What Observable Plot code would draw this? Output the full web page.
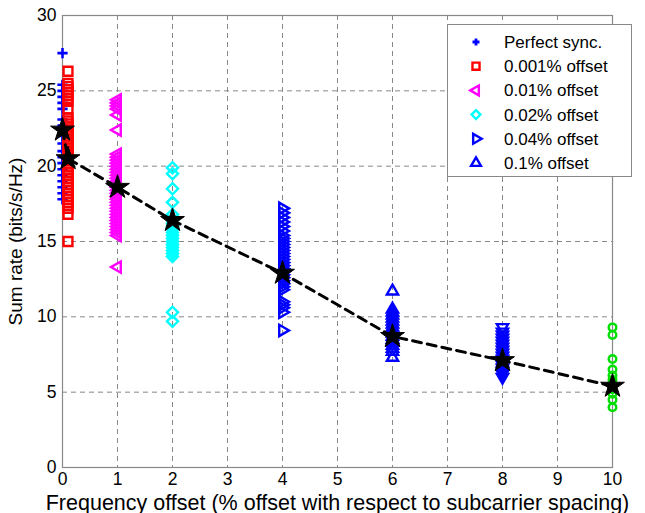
<!DOCTYPE html>
<html>
<head>
<meta charset="utf-8">
<script src="https://cdn.jsdelivr.net/npm/d3@7"></script>
<script src="https://cdn.jsdelivr.net/npm/@observablehq/plot@0.6"></script>
<style>
  body { margin: 0; background: #fff; }
  #wrap { position: relative; width: 645px; height: 513px; font-family: "Liberation Sans", Arial, sans-serif; }
  #legend { position: absolute; left: 447px; top: 24px; width: 185px; height: 153px; border: 1px solid #888; background: #fff; box-sizing: border-box; }
  #legend svg { display: block; }
</style>
</head>
<body>
<div id="wrap"><div id="chart"></div><div id="legend"></div></div>
<script>
// ---- data ----
const perfectSync = [27.5, 25.4, 25.0, 24.6, 24.2, 23.8, 23.1, 22.7, 22.0, 21.5, 21.0, 20.6, 20.2, 19.8, 19.4, 19.0, 18.6, 18.2, 17.8];
const offset0001 = [26.3, 25.5, 25.3, 25.1, 24.9, 24.7, 24.5, 24.3, 23.8, 23.2, 23.0, 22.8, 22.6, 22.4, 22.2, 22.0, 21.8, 21.6, 21.4, 21.2, 21.0, 20.8, 20.6, 20.4, 20.2, 20.0, 19.8, 19.6, 19.4, 19.2, 19.0, 18.8, 18.6, 18.4, 18.2, 18.0, 17.8, 17.6, 17.4, 17.2, 16.8, 15.0];
const offset001 = [24.4, 24.2, 24.0, 23.8, 23.4, 22.4, 20.8, 20.6, 20.4, 20.2, 20.0, 19.8, 19.6, 19.4, 19.2, 19.0, 18.8, 18.6, 18.4, 18.2, 18.0, 17.8, 17.6, 17.4, 17.2, 17.0, 16.8, 16.6, 16.4, 16.2, 16.0, 15.8, 15.6, 15.4, 13.3];
const offset002 = [19.9, 19.5, 18.5, 17.6, 16.8, 16.4, 16.2, 16.0, 15.8, 15.6, 15.4, 15.2, 15.0, 14.8, 14.6, 14.4, 14.2, 14.0, 10.3, 9.7];
const offset004 = [17.2, 16.9, 16.6, 16.3, 16.0, 15.7, 15.4, 15.2, 15.0, 14.8, 14.6, 14.4, 14.2, 14.0, 13.8, 13.6, 13.4, 13.2, 13.0, 12.8, 12.6, 12.4, 12.2, 12.0, 11.8, 11.0, 10.8, 10.6, 10.3, 9.1];
const offset01 = [11.7, 10.5, 10.3, 10.1, 9.9, 9.7, 9.5, 9.3, 9.1, 8.9, 8.7, 8.5, 8.3, 8.1, 7.9, 7.7, 7.3];
const offsetX8 = [9.3, 9.0, 8.8, 8.6, 8.4, 8.2, 8.0, 7.8, 7.6, 7.4, 7.2, 7.0, 6.8, 6.6, 6.4, 6.2, 6.0];
const offsetX10 = [9.3, 8.8, 7.2, 6.5, 6.1, 5.8, 5.5, 5.2, 4.9, 4.5, 4.0];
const meanX = [0, 0.1, 1, 2, 4, 6, 8, 10];
const meanY = [22.4, 20.5, 18.6, 16.4, 12.9, 8.7, 7.1, 5.4];
const xTicks = [0, 1, 2, 3, 4, 5, 6, 7, 8, 9, 10];
const yTicks = [0, 5, 10, 15, 20, 25, 30];

// series definitions: name, x position, values, symbol, rotation, color, in legend
const series = [
  {name: "Perfect sync.", x: 0, values: perfectSync, symbol: "plus", rotate: 0, color: "#0000ff", legend: true},
  {name: "0.001% offset", x: 0.1, values: offset0001, symbol: "square", rotate: 0, color: "#ff0000", legend: true},
  {name: "0.01% offset", x: 1, values: offset001, symbol: "triangle", rotate: -90, color: "#ff00ff", legend: true},
  {name: "0.02% offset", x: 2, values: offset002, symbol: "diamond2", rotate: 0, color: "#00ffff", legend: true},
  {name: "0.04% offset", x: 4, values: offset004, symbol: "triangle", rotate: 90, color: "#0000ff", legend: true},
  {name: "0.1% offset", x: 6, values: offset01, symbol: "triangle", rotate: 0, color: "#0000ff", legend: true},
  {name: "x8", x: 8, values: offsetX8, symbol: "triangle", rotate: 180, color: "#0000ff", legend: false},
  {name: "x10", x: 10, values: offsetX10, symbol: "circle", rotate: 0, color: "#00e000", legend: false}
];

const means = meanX.map((x, i) => ({x, y: meanY[i]}));

const sizeFor = s => s === "plus" ? 3.4 : s === "square" ? 5 : s === "circle" ? 3.8 : s === "diamond2" ? 5 : 4.2;
const font = '"Liberation Sans", Arial, sans-serif';

const chart = Plot.plot({
  width: 645,
  height: 513,
  marginLeft: 62,
  marginRight: 33,
  marginTop: 15,
  marginBottom: 46,
  style: {fontFamily: font, fontSize: "17px", background: "#fff", color: "#000"},
  x: {domain: [0, 10]},
  y: {domain: [0, 30]},
  marks: [
    Plot.gridX(xTicks.slice(1, -1), {stroke: "#888", strokeOpacity: 1, strokeDasharray: "5,4", strokeWidth: 1}),
    Plot.gridY(yTicks.slice(1, -1), {stroke: "#888", strokeOpacity: 1, strokeDasharray: "5,4", strokeWidth: 1}),
    Plot.frame({stroke: "#888", strokeWidth: 1.2}),
    Plot.axisX(xTicks, {tickSize: 0, tickPadding: 5, fontSize: 17.5, label: null}),
    Plot.axisX({ticks: [], tickSize: 0, fontSize: 21.5, label: "Frequency offset (% offset with respect to subcarrier spacing)", labelAnchor: "center", labelArrow: "none", labelOffset: 42}),
    Plot.axisY(yTicks, {tickSize: 0, tickPadding: 6, fontSize: 17.5, label: null}),
    Plot.axisY({ticks: [], tickSize: 0, fontSize: 19, label: "Sum rate (bits/s/Hz)", labelAnchor: "center", labelArrow: "none", labelOffset: 54}),
    ...series.map(s => Plot.dot(s.values, {
      x: () => s.x, y: d => d, symbol: () => s.symbol, rotate: s.rotate,
      r: sizeFor(s.symbol), stroke: s.color, fill: "none", strokeWidth: s.symbol === "plus" ? 2.6 : 2.4
    })),
    Plot.line(means, {x: "x", y: "y", stroke: "#000", strokeWidth: 3, strokeDasharray: "9,6"}),
    Plot.dot(means, {x: "x", y: "y", symbol: "star", r: 7.5, fill: "#000", stroke: "#000", strokeWidth: 1})
  ]
});
chart.querySelectorAll("text").forEach(t => t.setAttribute("fill", "#000"));
document.getElementById("chart").appendChild(chart);

// legend (HTML overlay built from the series definitions)
const symMap = {square: d3.symbolSquare, triangle: d3.symbolTriangle, diamond2: d3.symbolDiamond2, circle: d3.symbolCircle};
const lg = series.filter(s => s.legend);
const svg = d3.create("svg").attr("width", 183).attr("height", 151);
lg.forEach((s, i) => {
  const cy = 17 + i * 24.2;
  const path = s.symbol === "plus" ? "M-3.5,0H3.5M0,-3.5V3.5" : d3.symbol(symMap[s.symbol], s.symbol === "triangle" ? 42 : 50)();
  svg.append("path").attr("d", path)
    .attr("transform", `translate(28,${cy}) rotate(${s.rotate})`)
    .attr("fill", "none").attr("stroke", s.color).attr("stroke-width", s.symbol === "plus" ? 2.8 : 2.4);
  svg.append("text").attr("x", 56).attr("y", cy).attr("dy", "0.35em")
    .attr("font-size", 17).attr("font-family", font).text(s.name);
});
document.getElementById("legend").appendChild(svg.node());
</script>
</body>
</html>
